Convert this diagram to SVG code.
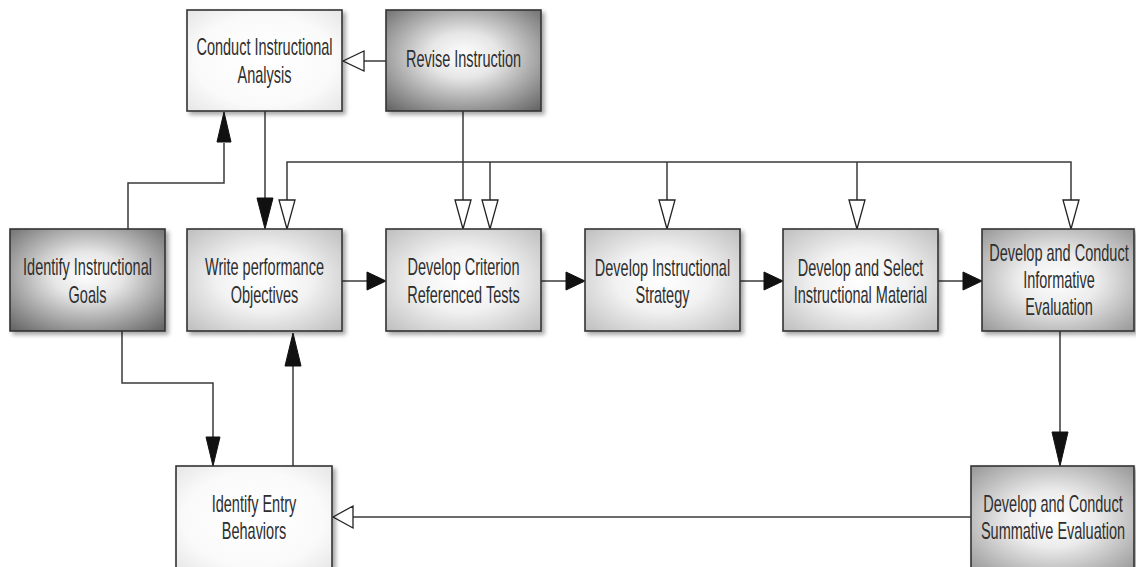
<svg xmlns="http://www.w3.org/2000/svg" width="1136" height="567" viewBox="0 0 1136 567">
<style>
.box{stroke:#333;stroke-width:1.6;filter:url(#sh)}
.t{font-family:"Liberation Sans",Arial,sans-serif;font-size:14.5px;fill:#2e2e2e;text-anchor:middle}
.ln{fill:none;stroke:#3a3a3a;stroke-width:1.5}
.fa{fill:#111;stroke:#111;stroke-width:1}
.oa{fill:#fff;stroke:#222;stroke-width:1.3}
</style>
<defs>
<filter id="sh" x="-10%" y="-10%" width="125%" height="130%">
<feDropShadow dx="3" dy="3" stdDeviation="2" flood-color="#000" flood-opacity="0.35"/>
</filter>
<radialGradient id="gl" cx="0.5" cy="0.5" r="0.75"><stop offset="0" stop-color="#fff"/><stop offset="0.6" stop-color="#fafafa"/><stop offset="1" stop-color="#e2e2e2"/></radialGradient>
<radialGradient id="gm" cx="0.5" cy="0.5" r="0.75"><stop offset="0" stop-color="#fff"/><stop offset="0.4" stop-color="#f2f2f2"/><stop offset="1" stop-color="#b8b8b8"/></radialGradient>
<radialGradient id="gd" cx="0.5" cy="0.45" r="0.75"><stop offset="0" stop-color="#fff"/><stop offset="0.3" stop-color="#e6e6e6"/><stop offset="1" stop-color="#5e5e5e"/></radialGradient>
<radialGradient id="gdm" cx="0.5" cy="0.5" r="0.75"><stop offset="0" stop-color="#fff"/><stop offset="0.35" stop-color="#ececec"/><stop offset="1" stop-color="#8e8e8e"/></radialGradient>
</defs>

<g id="connectors">
<!-- Revise -> Conduct -->
<path class="ln" d="M386,61 H364"/>
<polygon class="oa" points="343,61 364,51 364,71"/>
<!-- Conduct -> Write -->
<path class="ln" d="M265,111 V199"/>
<polygon class="fa" points="265,229 257,198 273,198"/>
<!-- Goals -> Conduct -->
<path class="ln" d="M128,229 V183 H224 V143"/>
<polygon class="fa" points="224,112 217,142 231,142"/>
<!-- Bus -->
<path class="ln" d="M287,200 V162 H1071 V200"/>
<path class="ln" d="M490,162 V200"/>
<path class="ln" d="M667,162 V200"/>
<path class="ln" d="M857,162 V200"/>
<polygon class="oa" points="287,229 279,200 295,200"/>
<polygon class="oa" points="490,229 482,200 498,200"/>
<polygon class="oa" points="667,229 659,200 675,200"/>
<polygon class="oa" points="857,229 849,200 865,200"/>
<polygon class="oa" points="1071,229 1063,200 1079,200"/>
<!-- Revise -> Criterion -->
<path class="ln" d="M463,111 V200"/>
<polygon class="oa" points="463,229 455,200 471,200"/>
<!-- Horizontal chain -->
<path class="ln" d="M342,281 H368"/>
<polygon class="fa" points="386,281 367,272 367,290"/>
<path class="ln" d="M541,281 H567"/>
<polygon class="fa" points="585,281 566,272 566,290"/>
<path class="ln" d="M740,281 H765"/>
<polygon class="fa" points="783,281 764,272 764,290"/>
<path class="ln" d="M938,281 H964"/>
<polygon class="fa" points="982,281 963,272 963,290"/>
<!-- Goals -> Entry -->
<path class="ln" d="M122,331 V383 H213 V438"/>
<polygon class="fa" points="213,466 206,437 220,437"/>
<!-- Entry -> Write -->
<path class="ln" d="M293,466 V366"/>
<polygon class="fa" points="293,333 285,366 301,366"/>
<!-- Informative -> Summative -->
<path class="ln" d="M1060,331 V433"/>
<polygon class="fa" points="1060,466 1052,432 1068,432"/>
<!-- Summative -> Entry -->
<path class="ln" d="M971,517 H353"/>
<polygon class="oa" points="333,517 353,506 353,528"/>
</g>

<g id="conduct">
<rect class="box" x="187" y="10" width="155" height="101" fill="url(#gl)"/>
<text class="t" transform="translate(264.5,55) scale(1,1.6)">Conduct Instructional</text>
<text class="t" transform="translate(264.5,83) scale(1,1.6)">Analysis</text>
</g>
<g id="revise">
<rect class="box" x="386" y="10" width="155" height="101" fill="url(#gd)"/>
<text class="t" transform="translate(463.5,67) scale(1,1.6)">Revise Instruction</text>
</g>
<g id="goals">
<rect class="box" x="10" y="229" width="155" height="102" fill="url(#gd)"/>
<text class="t" transform="translate(87.5,275) scale(1,1.6)">Identify Instructional</text>
<text class="t" transform="translate(87.5,303) scale(1,1.6)">Goals</text>
</g>
<g id="write">
<rect class="box" x="187" y="229" width="155" height="102" fill="url(#gm)"/>
<text class="t" transform="translate(264.5,275) scale(1,1.6)">Write performance</text>
<text class="t" transform="translate(264.5,303) scale(1,1.6)">Objectives</text>
</g>
<g id="criterion">
<rect class="box" x="386" y="229" width="155" height="102" fill="url(#gm)"/>
<text class="t" transform="translate(463.5,275) scale(1,1.6)">Develop Criterion</text>
<text class="t" transform="translate(463.5,303) scale(1,1.6)">Referenced Tests</text>
</g>
<g id="strategy">
<rect class="box" x="585" y="229" width="155" height="102" fill="url(#gm)"/>
<text class="t" transform="translate(662.5,276) scale(1,1.6)">Develop Instructional</text>
<text class="t" transform="translate(662.5,303) scale(1,1.6)">Strategy</text>
</g>
<g id="select">
<rect class="box" x="783" y="229" width="155" height="102" fill="url(#gm)"/>
<text class="t" transform="translate(860.5,276) scale(1,1.6)">Develop and Select</text>
<text class="t" transform="translate(860.5,303) scale(1,1.6)">Instructional Material</text>
</g>
<g id="informative">
<rect class="box" x="982" y="229" width="152" height="102" fill="url(#gdm)"/>
<text class="t" transform="translate(1059,261) scale(1,1.6)">Develop and Conduct</text>
<text class="t" transform="translate(1059,288) scale(1,1.6)">Informative</text>
<text class="t" transform="translate(1059,315) scale(1,1.6)">Evaluation</text>
</g>
<g id="entry">
<rect class="box" x="176" y="466" width="156" height="106" fill="url(#gl)"/>
<text class="t" transform="translate(254,512) scale(1,1.6)">Identify Entry</text>
<text class="t" transform="translate(254,539) scale(1,1.6)">Behaviors</text>
</g>
<g id="summative">
<rect class="box" x="971" y="466" width="163" height="106" fill="url(#gdm)"/>
<text class="t" transform="translate(1053,512) scale(1,1.6)">Develop and Conduct</text>
<text class="t" transform="translate(1053,539) scale(1,1.6)">Summative Evaluation</text>
</g>
</svg>
